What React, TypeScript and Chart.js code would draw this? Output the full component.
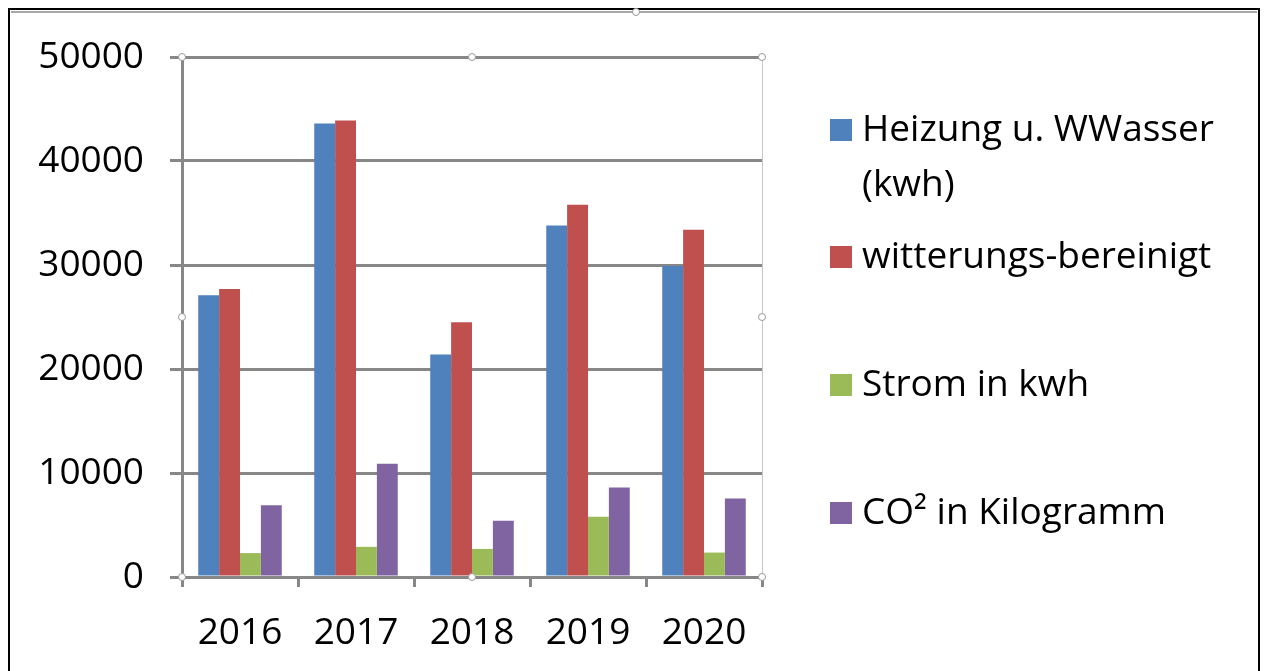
import React, { useEffect, useRef } from "react";
import { Chart, registerables } from "chart.js";

Chart.register(...registerables);

const categories = ["2016", "2017", "2018", "2019", "2020"];
const heizung = [27100, 43600, 21400, 33800, 29900];
const witterung = [27700, 43900, 24500, 35800, 33400];
const strom = [2300, 2900, 2700, 5800, 2350];
const co2 = [6900, 10900, 5400, 8600, 7550];
const seriesLabels = [
  ["Heizung u. WWasser", "(kwh)"],
  ["witterungs-bereinigt"],
  ["Strom in kwh"],
  ["CO² in Kilogramm"],
];
const seriesColors = ["#4F81BD", "#C0504D", "#9BBB59", "#8064A2"];
const yMin = 0;
const yMax = 50000;
const yStep = 10000;

const FONT = '"Open Sans", sans-serif';
const FONT_SIZE = 37;
const GRID = "#878787";

const W = 1267;
const H = 671;
const AREA = { left: 182, top: 57, right: 762, bottom: 577 };
const LEGEND_X = 830;
const LEGEND_Y = [130, 257, 385, 513];
const LINE_GAP = 55;

const decorPlugin = {
  id: "decor",
  beforeDraw(chart: any) {
    const ctx = chart.ctx;
    ctx.save();
    ctx.fillStyle = "#ffffff";
    ctx.fillRect(0, 0, W, H);
    // outer black frame (no bottom edge)
    ctx.strokeStyle = "#000000";
    ctx.lineWidth = 2;
    ctx.beginPath();
    ctx.moveTo(9, H + 5);
    ctx.lineTo(9, 9);
    ctx.lineTo(1259, 9);
    ctx.lineTo(1259, H + 5);
    ctx.stroke();
    // chart area outline (grey)
    ctx.strokeStyle = "#a8a8a8";
    ctx.lineWidth = 2;
    ctx.beginPath();
    ctx.moveTo(11, 12);
    ctx.lineTo(1257, 12);
    ctx.stroke();
    ctx.restore();
  },
  afterDraw(chart: any) {
    const ctx = chart.ctx;
    const a = chart.chartArea;
    ctx.save();
    // plot area selection outline (right edge)
    ctx.strokeStyle = "#c8c8c8";
    ctx.lineWidth = 1;
    ctx.beginPath();
    ctx.moveTo(a.right + 0.5, a.top);
    ctx.lineTo(a.right + 0.5, a.bottom);
    ctx.stroke();
    const mx = (a.left + a.right) / 2;
    const my = (a.top + a.bottom) / 2;
    const handles = [
      [a.left, a.top], [mx, a.top], [a.right, a.top],
      [a.left, my], [a.right, my],
      [a.left, a.bottom], [mx, a.bottom], [a.right, a.bottom],
      [636, 12],
    ];
    ctx.fillStyle = "#ffffff";
    ctx.strokeStyle = "#9a9a9a";
    ctx.lineWidth = 1;
    for (const [hx, hy] of handles) {
      ctx.beginPath();
      ctx.arc(hx, hy, 3.5, 0, Math.PI * 2);
      ctx.fill();
      ctx.stroke();
    }
    // legend
    ctx.font = `${FONT_SIZE}px ${FONT}`;
    ctx.textBaseline = "middle";
    ctx.textAlign = "left";
    chart.data.datasets.forEach((ds: any, i: number) => {
      const y = LEGEND_Y[i];
      ctx.fillStyle = ds.backgroundColor;
      ctx.fillRect(LEGEND_X, y - 11, 22, 22);
      ctx.fillStyle = "#000000";
      const lines: string[] = ds.legendLines;
      lines.forEach((t, j) => ctx.fillText(t, LEGEND_X + 32, y + j * LINE_GAP));
    });
    ctx.restore();
  },
};

export default function App() {
  const ref = useRef<HTMLCanvasElement | null>(null);
  useEffect(() => {
    if (!ref.current) return;
    const series = [heizung, witterung, strom, co2];
    const chart = new Chart(ref.current, {
      type: "bar",
      data: {
        labels: categories,
        datasets: series.map((d, i) => ({
          label: seriesLabels[i].join(" "),
          legendLines: seriesLabels[i],
          data: d,
          backgroundColor: seriesColors[i],
          borderWidth: 0,
          barPercentage: 1,
          categoryPercentage: 0.72,
        })) as any,
      },
      options: {
        animation: false,
        responsive: false,
        devicePixelRatio: 1,
        layout: {
          padding: { left: 0, top: AREA.top, right: W - AREA.right, bottom: 0 },
        },
        plugins: {
          legend: { display: false },
          tooltip: { enabled: false },
          title: { display: false },
        },
        scales: {
          x: {
            grid: {
              offset: true,
              drawOnChartArea: false,
              drawTicks: true,
              tickLength: 10,
              lineWidth: 3,
              color: GRID,
            },
            border: { display: true, color: GRID, width: 3 },
            ticks: {
              color: "#000000",
              font: { family: FONT, size: FONT_SIZE },
              padding: 24,
              maxRotation: 0,
            },
            afterFit(scale: any) {
              scale.height = H - AREA.bottom;
            },
          },
          y: {
            min: yMin,
            max: yMax,
            grid: {
              color: GRID,
              lineWidth: 3,
              tickLength: 12,
              drawTicks: true,
            },
            border: { display: true, color: GRID, width: 3 },
            ticks: {
              stepSize: yStep,
              color: "#000000",
              font: { family: FONT, size: FONT_SIZE },
              padding: 26,
              callback: (v: any) => String(v),
            },
            afterFit(scale: any) {
              scale.width = AREA.left;
            },
          },
        },
      },
      plugins: [decorPlugin],
    });
    return () => chart.destroy();
  }, []);
  return (
    <div style={{ position: "fixed", left: 0, top: 0, width: W, height: H, background: "#fff" }}>
      <canvas ref={ref} width={W} height={H} style={{ display: "block", width: W, height: H }} />
    </div>
  );
}
